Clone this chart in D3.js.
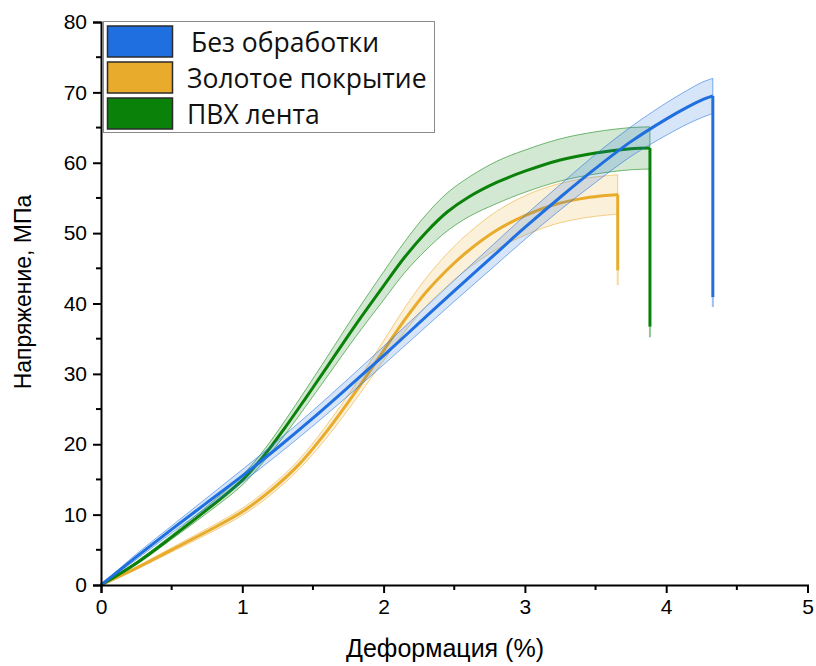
<!DOCTYPE html>
<html>
<head>
<meta charset="utf-8">
<script src="https://cdn.jsdelivr.net/npm/d3@7"></script>
<style>
  body { margin: 0; background: #fff; }
  svg { display: block; }
</style>
</head>
<body>
<div id="chart"></div>
<script>
"use strict"

const width = 816,
  height = 666;

// Без обработки
const blueStrain = [0, 0.25, 0.5, 0.75, 1.0, 1.25, 1.5, 1.75, 2.0, 2.25, 2.5, 2.75, 3.0, 3.25, 3.5, 3.75, 4.0, 4.15, 4.25, 4.33];
const blueStress = [0, 4.0, 7.9, 11.7, 15.5, 19.5, 23.7, 28.1, 32.6, 37.2, 41.8, 46.3, 50.8, 55.1, 59.2, 63.0, 66.2, 67.9, 68.9, 69.5];
const blueSd = [0, 0.4, 0.5, 0.7, 0.9, 1.0, 1.1, 1.2, 1.3, 1.4, 1.5, 1.6, 1.7, 1.8, 2.0, 2.1, 2.3, 2.4, 2.5, 2.5];
const blueDrop = [40.9, 39.5];

// Золотое покрытие
const goldStrain = [0, 0.25, 0.5, 0.75, 1.0, 1.2, 1.4, 1.6, 1.8, 2.0, 2.15, 2.3, 2.45, 2.6, 2.8, 3.0, 3.2, 3.4, 3.55, 3.657];
const goldStress = [0, 2.4, 5.0, 7.6, 10.4, 13.4, 17.1, 21.9, 27.4, 33.3, 37.7, 41.6, 44.8, 47.5, 50.4, 52.5, 54.0, 54.9, 55.3, 55.5];
const goldSd = [0, 0.2, 0.3, 0.4, 0.5, 0.6, 0.7, 0.9, 1.1, 1.4, 1.7, 2.0, 2.3, 2.5, 2.7, 2.8, 2.8, 2.8, 2.8, 2.8];
const goldDrop = [44.7, 42.6];

// ПВХ лента
const greenStrain = [0, 0.25, 0.5, 0.75, 1.0, 1.15, 1.3, 1.45, 1.6, 1.8, 2.0, 2.15, 2.3, 2.45, 2.6, 2.8, 3.0, 3.25, 3.5, 3.75, 3.885];
const greenStress = [0, 3.1, 6.8, 10.7, 14.9, 18.3, 22.3, 26.6, 31.0, 36.9, 42.5, 46.6, 50.1, 53.0, 55.1, 57.2, 58.8, 60.4, 61.4, 62.0, 62.1];
const greenSd = [0, 0.2, 0.3, 0.5, 0.7, 0.8, 1.0, 1.2, 1.4, 1.7, 2.0, 2.2, 2.5, 2.7, 2.8, 3.0, 3.0, 3.0, 3.0, 3.0, 3.0];
const greenDrop = [36.7, 35.2];

const legendNames = ["Без обработки", "Золотое покрытие", "ПВХ лента"];
const xTicks = [0, 1, 2, 3, 4, 5];
const yTicks = [0, 10, 20, 30, 40, 50, 60, 70, 80];

const series = [
  { name: legendNames[1], strain: goldStrain, stress: goldStress, sd: goldSd, drop: goldDrop, color: "#e9ab2c" },
  { name: legendNames[2], strain: greenStrain, stress: greenStress, sd: greenSd, drop: greenDrop, color: "#0a820a" },
  { name: legendNames[0], strain: blueStrain, stress: blueStress, sd: blueSd, drop: blueDrop, color: "#1f6fe0" }
];
const legendOrder = [series[2], series[0], series[1]];

const x = d3.scaleLinear().domain([0, 5]).range([101, 807.5]);
const y = d3.scaleLinear().domain([0, 80]).range([585, 22]);

const svg = d3.select("#chart")
  .append("svg")
  .attr("width", width)
  .attr("height", height);

const plot = svg.append("g");
const curve = d3.curveCatmullRom.alpha(0.5);

series.forEach(s => {
  const pts = s.strain.map((v, i) => ({ x: v, y: s.stress[i], sd: s.sd[i] }));
  const last = pts[pts.length - 1];

  const band = d3.area()
    .x(d => x(d.x))
    .y0(d => y(d.y - d.sd))
    .y1(d => y(d.y + d.sd))
    .curve(curve);

  plot.append("path")
    .datum(pts)
    .attr("d", band)
    .attr("fill", s.color)
    .attr("fill-opacity", 0.18)
    .attr("stroke", s.color)
    .attr("stroke-opacity", 0.55)
    .attr("stroke-width", 1);

  // light tail under the drop
  plot.append("line")
    .attr("x1", x(last.x)).attr("x2", x(last.x))
    .attr("y1", y(s.drop[0])).attr("y2", y(s.drop[1]))
    .attr("stroke", s.color)
    .attr("stroke-opacity", 0.45)
    .attr("stroke-width", 2);

  const line = d3.line()
    .x(d => x(d.x))
    .y(d => y(d.y))
    .curve(curve);

  plot.append("path")
    .datum(pts)
    .attr("d", line)
    .attr("fill", "none")
    .attr("stroke", s.color)
    .attr("stroke-width", 3);

  plot.append("line")
    .attr("x1", x(last.x)).attr("x2", x(last.x))
    .attr("y1", y(last.y)).attr("y2", y(s.drop[0]))
    .attr("stroke", s.color)
    .attr("stroke-width", 3);
});

// axes
const xAxis = svg.append("g")
  .attr("transform", `translate(0,${y(0)})`)
  .call(d3.axisBottom(x).tickValues(xTicks).tickSize(8).tickPadding(6).tickFormat(d3.format("d")));
xAxis.append("g")
  .selectAll("line")
  .data(d3.range(0.5, 5, 1))
  .join("line")
    .attr("x1", d => x(d)).attr("x2", d => x(d))
    .attr("y1", 0).attr("y2", 5)
    .attr("stroke", "#000").attr("stroke-width", 2);

const yAxis = svg.append("g")
  .attr("transform", `translate(${x(0)},0)`)
  .call(d3.axisLeft(y).tickValues(yTicks).tickSize(8).tickPadding(6));
yAxis.append("g")
  .selectAll("line")
  .data(d3.range(5, 80, 10))
  .join("line")
    .attr("y1", d => y(d)).attr("y2", d => y(d))
    .attr("x1", 0).attr("x2", -5)
    .attr("stroke", "#000").attr("stroke-width", 2);

svg.selectAll(".domain").attr("stroke", "#000").attr("stroke-width", 2);
svg.selectAll(".tick line").attr("stroke", "#000").attr("stroke-width", 2);
svg.selectAll(".tick text")
  .style("font-family", "'Liberation Sans', Arial, sans-serif")
  .style("font-size", "21px")
  .attr("fill", "#000");

svg.append("text")
  .attr("x", 445)
  .attr("y", 657)
  .attr("text-anchor", "middle")
  .style("font-family", "'Liberation Sans', Arial, sans-serif")
  .style("font-size", "25px")
  .text("Деформация (%)");

svg.append("text")
  .attr("transform", "translate(31,292) rotate(-90)")
  .attr("text-anchor", "middle")
  .style("font-family", "'Liberation Sans', Arial, sans-serif")
  .style("font-size", "23px")
  .text("Напряжение, МПа");

// legend
const legend = svg.append("g");
legend.append("rect")
  .attr("x", 103.5).attr("y", 21.5)
  .attr("width", 331).attr("height", 111)
  .attr("fill", "#fff")
  .attr("stroke", "#8a8a8a")
  .attr("stroke-width", 1);

const item = legend.selectAll("g.item")
  .data(legendOrder)
  .join("g")
    .attr("class", "item")
    .attr("transform", (d, i) => `translate(0,${i * 36})`);

item.append("rect")
  .attr("x", 107.5).attr("y", 26)
  .attr("width", 65).attr("height", 31)
  .attr("fill", d => d.color)
  .attr("stroke", "#2b2b2b")
  .attr("stroke-width", 1.5);

item.append("text")
  .attr("x", (d, i) => i === 0 ? 191 : 187)
  .attr("y", 52)
  .style("font-family", "'Open Sans', sans-serif")
  .style("font-size", "26.5px")
  .attr("fill", "#111")
  .text(d => d.name);
</script>
</body>
</html>
